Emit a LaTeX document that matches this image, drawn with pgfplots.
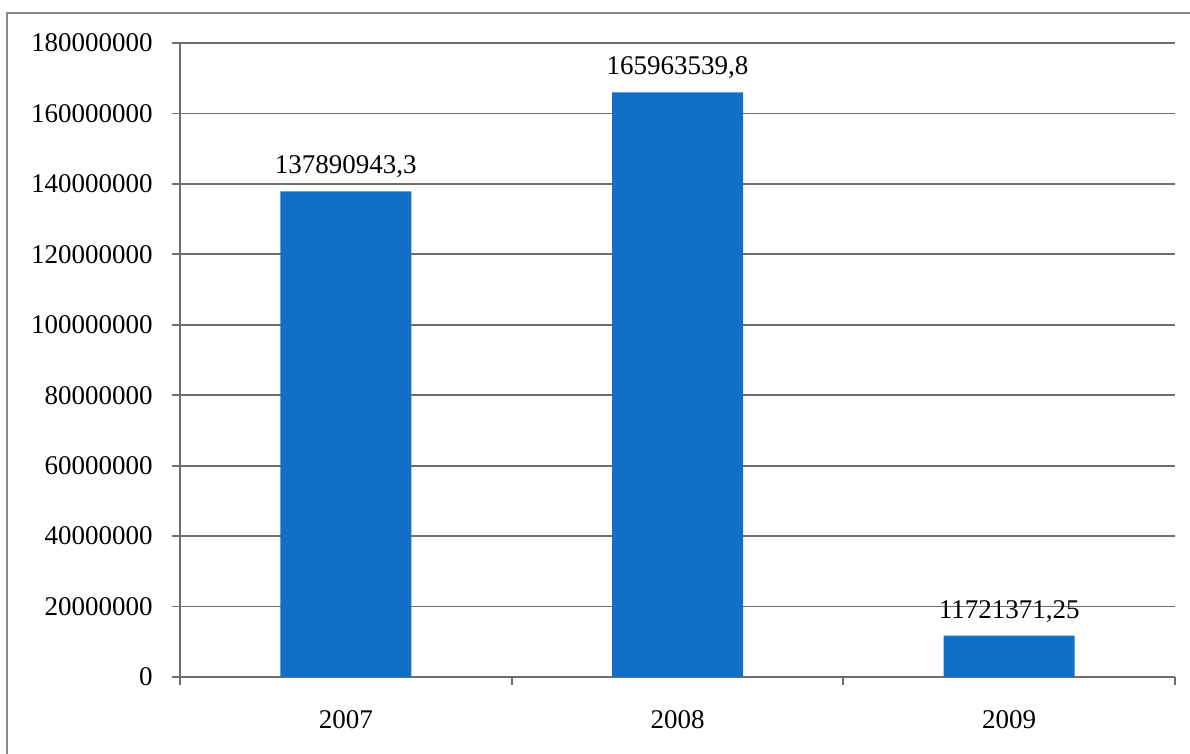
\documentclass[border=0pt]{standalone}
\usepackage{fontspec}
\setmainfont{Liberation Serif}
\usepackage{pgfplots}
\pgfplotsset{compat=1.18}
\definecolor{barblue}{HTML}{1170C6}
\definecolor{gridgray}{HTML}{6E6E6E}
\begin{document}
\begin{tikzpicture}
\fontsize{13.5}{15}\selectfont
\useasboundingbox (0,0) rectangle (595pt,377pt);
\draw[gridgray!80, line width=1pt] (3.5pt,0) -- (3.5pt,370.5pt) -- (596pt,370.5pt);
\begin{axis}[
  at={(90pt,38.5pt)}, anchor=south west,
  scale only axis,
  width=497.5pt, height=317pt,
  xmin=-0.5, xmax=2.5,
  ymin=0, ymax=180000000,
  scaled y ticks=false,
  axis x line*=bottom, axis y line*=left,
  axis line style={gridgray, line width=0.9pt},
  ytick={0,20000000,40000000,60000000,80000000,100000000,120000000,140000000,160000000,180000000},
  yticklabels={0,20000000,40000000,60000000,80000000,100000000,120000000,140000000,160000000,180000000},
  ymajorgrids,
  grid style={gridgray, line width=0.9pt},
  xtick={-0.5,0.5,1.5,2.5},
  xticklabels={,,,},
  extra x ticks={0,1,2},
  extra x tick labels={2007,2008,2009},
  extra x tick style={major tick length=0pt, grid=none, xticklabel style={yshift=-12pt}},
  major tick length=4pt,
  tick align=outside,
  tick style={gridgray, line width=0.9pt},
  yticklabel style={xshift=-5pt},
  tick label style={font=\fontsize{13.5}{15}\selectfont},
  ybar, bar width=65.5pt,
  nodes near coords,
  point meta=explicit symbolic,
  nodes near coords style={font=\fontsize{13.5}{15}\selectfont, yshift=2pt},
  clip=false,
]
\addplot[fill=barblue, draw=none] table[meta=label] {
x y label
0 137890943.3 137890943,3
1 165963539.8 165963539,8
2 11721371.25 11721371,25
};
\end{axis}
\end{tikzpicture}
\end{document}
